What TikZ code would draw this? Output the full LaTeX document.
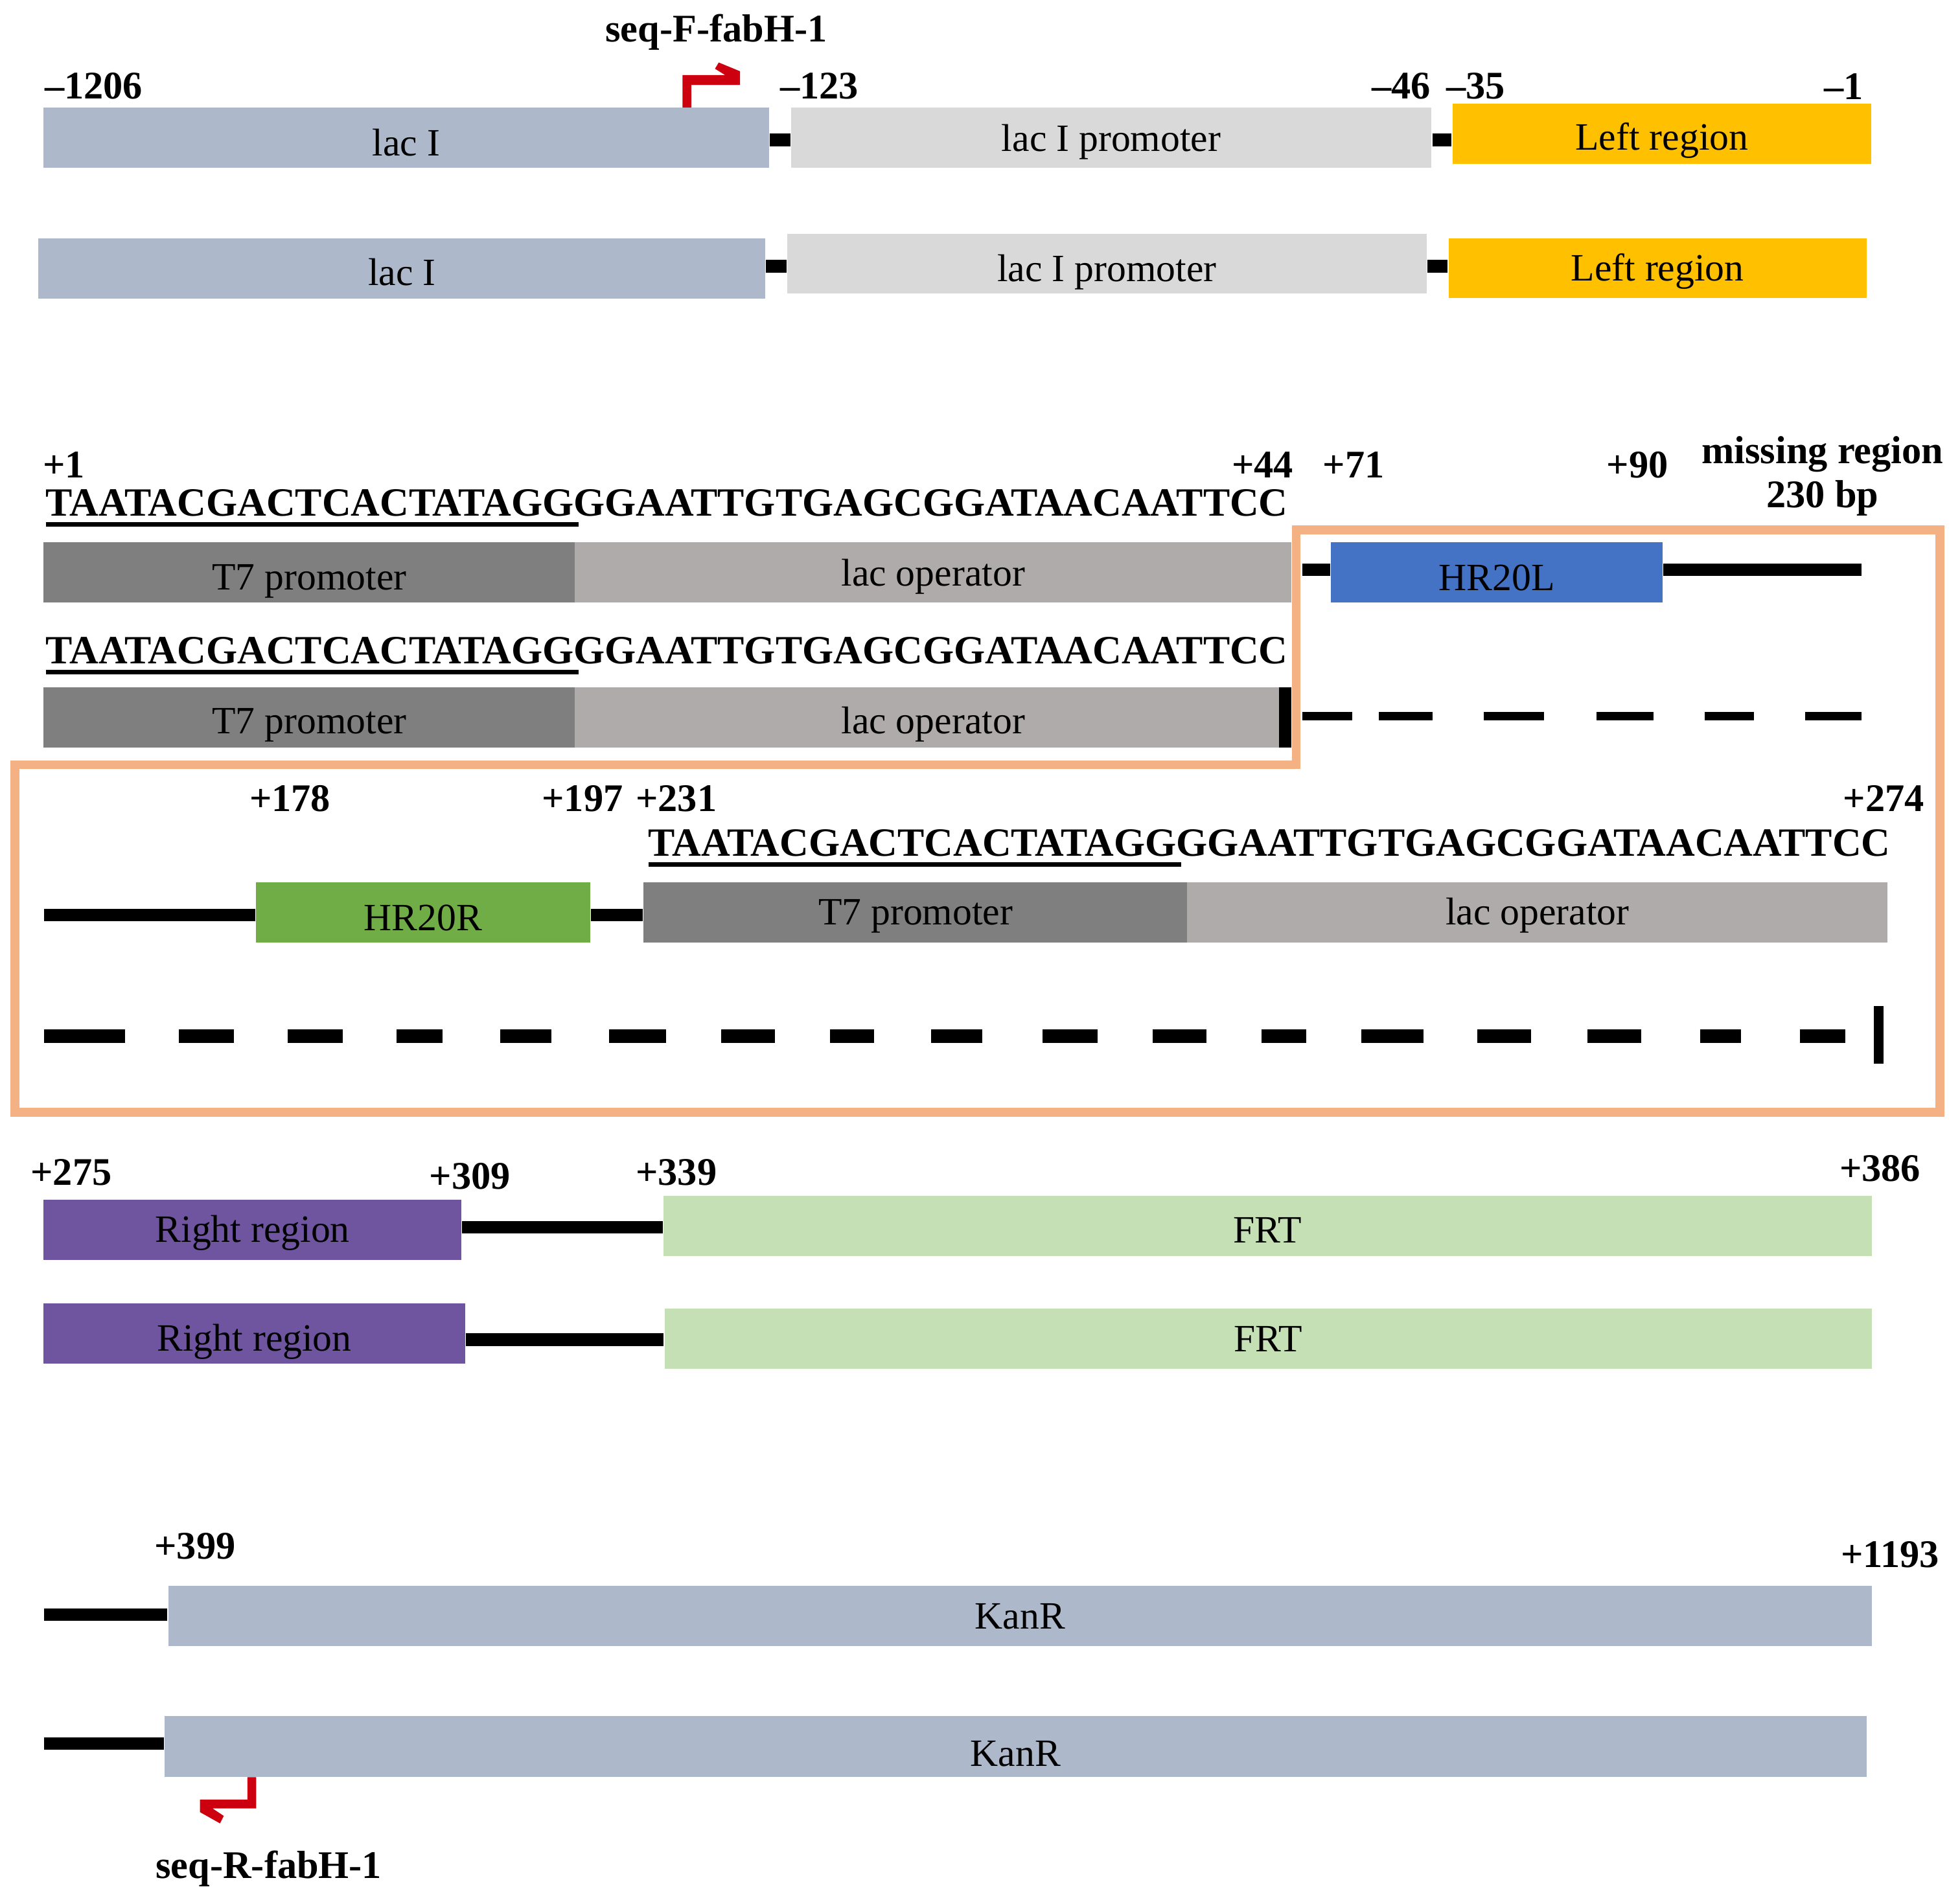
\documentclass[tikz,border=0pt]{standalone}
\usepackage{fontspec}
\setmainfont{Liberation Serif}
\definecolor{kanblue}{HTML}{ADB9CA}
\definecolor{promgray}{HTML}{D9D9D9}
\definecolor{leftgold}{HTML}{FFC000}
\definecolor{tsevgray}{HTML}{7F7F7F}
\definecolor{opgray}{HTML}{AFABAB}
\definecolor{hrblue}{HTML}{4472C4}
\definecolor{hrgreen}{HTML}{70AD47}
\definecolor{rightpurple}{HTML}{6F55A0}
\definecolor{frtgreen}{HTML}{C5E0B4}
\definecolor{frameorange}{HTML}{F4B183}
\definecolor{primerred}{RGB}{205,0,15}
\newcommand{\promseq}{\setbox0\hbox{TAATACGACTCACTATAGG}\dimen0=\wd0 \advance\dimen0 by 0.04cm \rlap{\rule[-0.085cm]{\dimen0}{0.035cm}}\box0 GGAATTGTGAGCGGATAACAATTCC}
\tikzset{
  every node/.style={font=\fontsize{8.8}{10}\selectfont, inner sep=0pt},
  genebox/.style={rectangle, minimum height=0.48cm, text depth=0pt, text height=6pt},
  poslabel/.style={font=\fontsize{8.9}{10}\selectfont\bfseries},
  seqtext/.style={font=\fontsize{9.12}{10}\selectfont\bfseries, anchor=base west},
  dnabar/.style={line width=0.1cm},
  dashbar/.style={line width=0.07cm},
  longdash/.style={line width=0.11cm}
}
\begin{document}
\begin{tikzpicture}[x=0.01cm,y=-0.01cm]
\useasboundingbox (0,0) rectangle (1568,1520);

\draw [frameorange, line width=0.07cm] (1037,424) -- (1552,424) -- (1552,890) -- (12,890) -- (12,612) -- (1037,612) -- cycle;

\node [poslabel] (seqf) at (573,25.5) {seq-F-fabH-1};
\node [poslabel] (pa) at (75,69) {--1206};
\node [poslabel] (pb) at (655.5,69) {--123};
\node [poslabel] (pc) at (1121,69) {--46};
\node [poslabel] (pd) at (1180.5,69) {--35};
\node [poslabel] (pe) at (1475,69) {--1};
\coordinate (bara) at (0,112);
\node [genebox, fill=kanblue, minimum width=5.80cm, text height=8.3pt] (lacia) at (325,110) {lac I};
\node [genebox, fill=promgray, minimum width=5.12cm, text height=6.3pt] (proma) at (889,110) {lac I promoter};
\node [genebox, fill=leftgold, minimum width=3.35cm, text height=7.4pt] (lefta) at (1329.5,107) {Left region};
\draw [dnabar] (lacia.east |- bara) -- (proma.west |- bara);
\draw [dnabar] (proma.east |- bara) -- (lefta.west |- bara);
\fill [primerred] (546,86) -- (553,86) -- (553,68) -- (592,68) -- (592,57) -- (575,50) -- (572,55) -- (580,60) -- (546,60) -- cycle;

\coordinate (barb) at (0,213);
\node [genebox, fill=kanblue, minimum width=5.81cm, text height=7.7pt] (lacib) at (321.5,215) {lac I};
\node [genebox, fill=promgray, minimum width=5.11cm, text height=8pt] (promb) at (885.5,211) {lac I promoter};
\node [genebox, fill=leftgold, minimum width=3.34cm, text height=5.7pt] (leftb) at (1326,214.5) {Left region};
\draw [dnabar] (lacib.east |- barb) -- (promb.west |- barb);
\draw [dnabar] (promb.east |- barb) -- (leftb.west |- barb);

\node [poslabel] (pf) at (51,372) {+1};
\node [poslabel] (pg) at (1010,372) {+44};
\node [poslabel] (ph) at (1083,372) {+71};
\node [poslabel] (pi) at (1310,372) {+90};
\node [poslabel, align=center] (miss) at (1458,381) {missing region\\230 bp};
\node [seqtext] (seqa) at (36,413) {\promseq};
\node [genebox, fill=tsevgray, minimum width=4.25cm, text height=8pt] (tsa) at (247.5,458) {T7 promoter};
\node [genebox, fill=opgray, minimum width=5.73cm, text height=6.3pt] (opa) at (746.5,458) {lac operator};
\node [genebox, fill=hrblue, minimum width=2.65cm, text height=8.3pt] (hrl) at (1197.5,458) {HR20L};
\coordinate (hrlstart) at (1042,456);
\coordinate (hrlend) at (1489,456);
\draw [dnabar] (hrlstart) -- (hrlstart -| hrl.west);
\draw [dnabar] (hrlend -| hrl.east) -- (hrlend);

\node [seqtext] (seqb) at (36,531) {\promseq};
\node [genebox, fill=tsevgray, minimum width=4.25cm, text height=7.4pt] (tsb) at (247.5,574) {T7 promoter};
\node [genebox, fill=opgray, minimum width=5.73cm, text height=7.4pt] (opb) at (746.5,574) {lac operator};
\node [genebox, fill=black, minimum width=0.1cm] (stopa) at (1028,574) {};
\foreach \a/\b in {1042/1082,1103/1146,1187/1235,1277/1323,1364/1403,1444/1489}
  \draw [dashbar] (\a,573) -- (\b,573);

\node [poslabel] (pj) at (232,639) {+178};
\node [poslabel] (pk) at (466,639) {+197};
\node [poslabel] (pl) at (541,639) {+231};
\node [poslabel] (pm) at (1507,639) {+274};
\node [seqtext] (seqc) at (518,685) {\promseq};
\coordinate (hrrstart) at (35,732);
\node [genebox, fill=hrgreen, minimum width=2.67cm, text height=8.3pt] (hrr) at (338.5,730) {HR20R};
\node [genebox, fill=tsevgray, minimum width=4.35cm, text height=5.7pt] (tsc) at (732.5,730) {T7 promoter};
\node [genebox, fill=opgray, minimum width=5.60cm, text height=5.7pt] (opc) at (1230,730) {lac operator};
\draw [dnabar] (hrrstart) -- (hrrstart -| hrr.west);
\draw [dnabar] (hrr.east |- hrrstart) -- (tsc.west |- hrrstart);

\foreach \a/\b in {35/100,143/187,230/274,317/354,400/441,487/533,577/620,664/699,745/786,834/878,922/965,1009/1045,1089/1139,1182/1225,1270/1313,1360/1393,1440/1476}
  \draw [longdash] (\a,829) -- (\b,829);
\node [genebox, fill=black, minimum width=0.08cm, minimum height=0.46cm] (stopb) at (1503,828) {};

\node [poslabel] (pn) at (57,938) {+275};
\node [poslabel] (po) at (376,941) {+309};
\node [poslabel] (pp) at (541,938) {+339};
\node [poslabel] (pq) at (1504,935) {+386};
\coordinate (bare) at (0,982);
\node [genebox, fill=rightpurple, minimum width=3.34cm, text height=5.7pt] (righta) at (202,984) {Right region};
\node [genebox, fill=frtgreen, minimum width=9.66cm, text height=7.7pt] (frta) at (1014,981) {FRT};
\draw [dnabar] (righta.east |- bare) -- (frta.west |- bare);

\coordinate (barf) at (0,1072);
\node [genebox, fill=rightpurple, minimum width=3.37cm, text height=8pt] (rightb) at (203.5,1067) {Right region};
\node [genebox, fill=frtgreen, minimum width=9.65cm] (frtb) at (1014.5,1071) {FRT};
\draw [dnabar] (rightb.east |- barf) -- (frtb.west |- barf);

\node [poslabel] (pr) at (156,1237) {+399};
\node [poslabel] (ps) at (1512,1244) {+1193};
\coordinate (kanstarta) at (35,1292);
\node [genebox, fill=kanblue, minimum width=13.62cm] (kana) at (816,1293) {KanR};
\draw [dnabar] (kanstarta) -- (kanstarta -| kana.west);

\coordinate (kanstartb) at (35,1395);
\node [genebox, fill=kanblue, minimum width=13.61cm, minimum height=0.49cm, text height=8.9pt] (kanb) at (812.5,1397.5) {KanR};
\draw [dnabar] (kanstartb) -- (kanstartb -| kanb.west);
\fill [primerred] (198,1422) -- (205,1422) -- (205,1447) -- (170,1447) -- (179,1453) -- (176,1459) -- (160,1450) -- (160,1440) -- (198,1440) -- cycle;
\node [poslabel] (seqr) at (215,1495) {seq-R-fabH-1};
\end{tikzpicture}
\end{document}
